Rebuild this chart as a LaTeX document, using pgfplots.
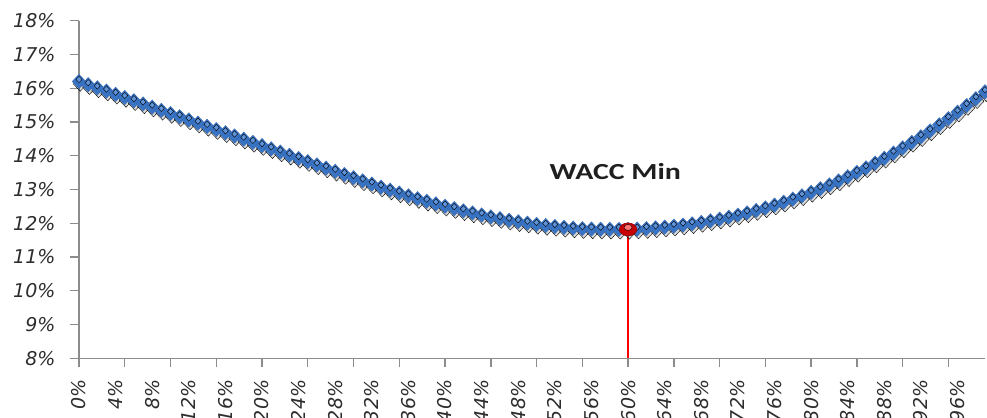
\documentclass[border=0pt]{standalone}
\usepackage{pgfplots}
\pgfplotsset{compat=1.18}
\usepackage{pgfplotstable}
\usepackage{fontspec}
\setmainfont{DejaVu Sans}
\newfontfamily\labelfont{Carlito}[FakeStretch=1.3]

\definecolor{waccblue}{RGB}{56,115,196}
\definecolor{waccshine}{RGB}{96,148,218}
\definecolor{axisgray}{RGB}{140,140,140}
\definecolor{ticktext}{RGB}{45,45,45}

% WACC (%) against debt share of capital (%)
\pgfplotstableread{
d w
0 16.200
1 16.105
2 16.010
3 15.915
4 15.820
5 15.725
6 15.630
7 15.535
8 15.440
9 15.345
10 15.250
11 15.155
12 15.060
13 14.965
14 14.870
15 14.775
16 14.680
17 14.585
18 14.490
19 14.395
20 14.300
21 14.205
22 14.110
23 14.015
24 13.920
25 13.825
26 13.730
27 13.635
28 13.540
29 13.445
30 13.350
31 13.256
32 13.162
33 13.071
34 12.982
35 12.896
36 12.812
37 12.730
38 12.652
39 12.576
40 12.504
41 12.434
42 12.368
43 12.305
44 12.246
45 12.190
46 12.138
47 12.089
48 12.045
49 12.004
50 11.966
51 11.933
52 11.904
53 11.879
54 11.858
55 11.841
56 11.830
57 11.824
58 11.821
59 11.819
60 11.818
61 11.826
62 11.842
63 11.863
64 11.886
65 11.913
66 11.946
67 11.983
68 12.025
69 12.071
70 12.123
71 12.179
72 12.241
73 12.307
74 12.379
75 12.455
76 12.537
77 12.624
78 12.716
79 12.813
80 12.915
81 13.023
82 13.135
83 13.254
84 13.377
85 13.506
86 13.641
87 13.781
88 13.925
89 14.077
90 14.233
91 14.395
92 14.563
93 14.736
94 14.915
95 15.099
96 15.290
97 15.486
98 15.688
99 15.895
}\wacc

\begin{document}
\begin{tikzpicture}
\begin{axis}[
  at={(0,0)}, anchor=south west,
  scale only axis,
  width=906bp, height=337.6bp,
  xmin=0, xmax=99, ymin=8, ymax=18,
  clip=false,
  axis x line*=bottom, axis y line*=left,
  axis line style={axisgray, line width=1.4bp},
  tick align=outside,
  tick style={axisgray, line width=1.4bp},
  major tick length=9bp, minor tick length=9bp,
  /pgf/number format/assume math mode=true,
  ytick={8,9,...,18},
  yticklabel={\pgfmathprintnumber{\tick}\%},
  xtick={0,4,...,96},
  xticklabel={\pgfmathprintnumber{\tick}\%},
  major x tick style={draw=none},
  minor xtick={0,5,...,95},
  yticklabel shift=11bp,
  xticklabel shift=9bp,
  yticklabel style={font=\itshape\fontsize{19bp}{22bp}\selectfont, text=ticktext, anchor=east},
  xticklabel style={font=\itshape\fontsize{19bp}{22bp}\selectfont, text=ticktext, rotate=90, anchor=east},
]
% soft shadow under the curve
\addplot[draw=none, mark=diamond*, mark size=7.3bp,
  mark options={xscale=1.25, fill=black, fill opacity=0.15, draw=none, xshift=1bp, yshift=-2.5bp}] table {\wacc};
% WACC curve
\addplot[draw=waccblue, line width=1.5bp, mark=diamond*, mark size=7.3bp,
  mark options={xscale=1.25, fill=waccblue, draw=waccblue!85!black, line width=0.2bp}] table {\wacc};
\addplot[draw=none, mark=diamond*, mark size=3.2bp,
  mark options={xscale=1.25, fill=waccshine, draw=none, yshift=2bp}] table {\wacc};
% minimum: drop line and marker
\addplot[red, line width=2bp] coordinates {(60,11.818) (60,8)};
\addplot[only marks, mark=*, mark size=6.5bp,
  mark options={xscale=1.35, fill=red!78!black, draw=red!55!black, line width=0.5bp}] coordinates {(60,11.818)};
\addplot[only marks, mark=*, mark size=3bp,
  mark options={xscale=1.35, fill=red!55!white, draw=none, yshift=2bp}] coordinates {(60,11.818)};
\node[font=\labelfont\bfseries\fontsize{23bp}{26bp}\selectfont, text=black!88] at (axis cs:58.6,13.52) {WACC Min};
\end{axis}
\pgfresetboundingbox
\path[use as bounding box] (-79bp,-59.7bp) rectangle (908bp,358.3bp);
\end{tikzpicture}
\end{document}
